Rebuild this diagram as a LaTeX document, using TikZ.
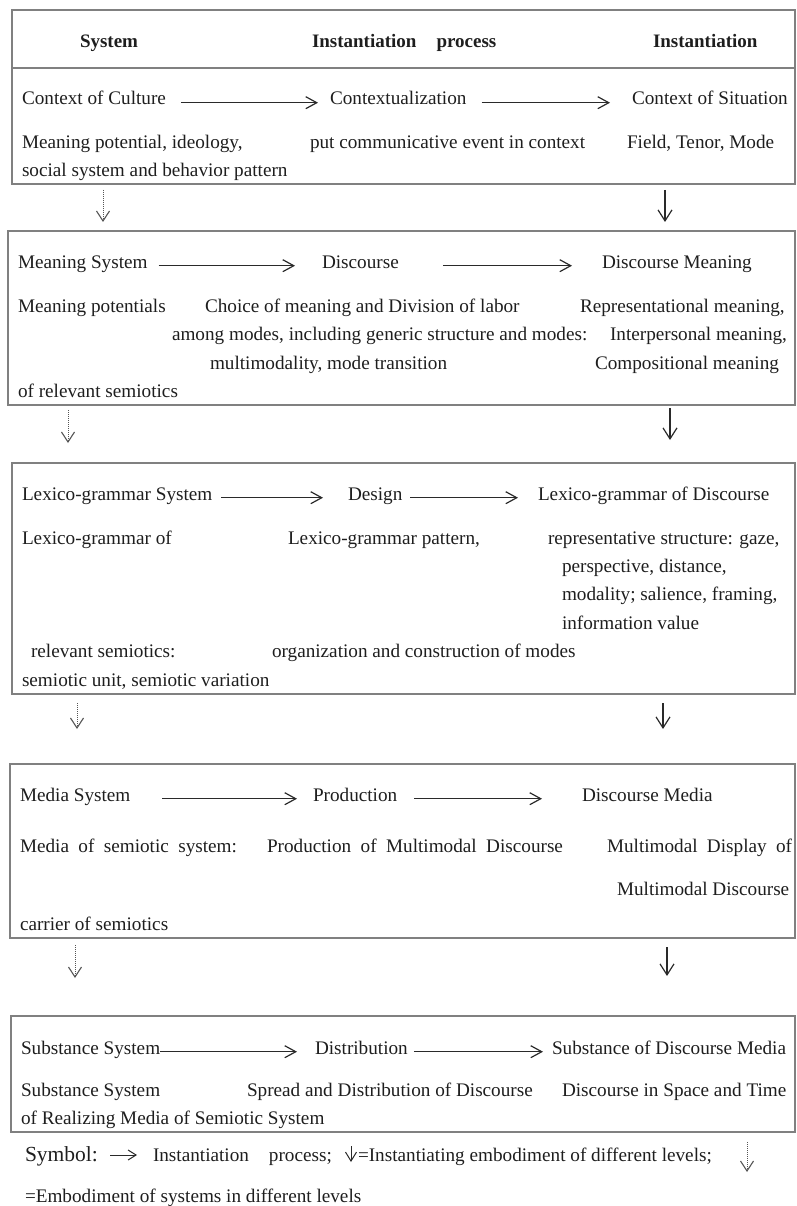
\documentclass[tikz,border=0pt]{standalone}
\usepackage{graphicx}
\usepackage{fontspec}
\setmainfont{Liberation Serif}
\usetikzlibrary{arrows.meta}
\definecolor{textc}{HTML}{1E1E1E}
\definecolor{boxc}{HTML}{808080}
\definecolor{arrc}{HTML}{2A2A2A}
\definecolor{dotc}{HTML}{555555}
\begin{document}
\begin{tikzpicture}[x=1pt,y=-1pt,
  txt/.style={anchor=base west, inner sep=0pt, outer sep=0pt, text=textc, font=\rmfamily\fontsize{19.2}{23}\selectfont},
  hdr/.style={txt, font=\rmfamily\fontsize{19}{23}\selectfont\bfseries},
  boxline/.style={draw=boxc, line width=1.4pt},
  harrow/.style={draw=arrc, line width=1.2pt, -{Straight Barb[length=11pt,width=12pt,line width=1.2pt]}},
  varrow/.style={draw=arrc, line width=1.2pt, -{Straight Barb[length=11pt,width=14pt,line width=1.2pt]}},
  darrow/.style={draw=dotc, line width=0.9pt, dash pattern=on 1pt off 1pt, -{Straight Barb[length=10pt,width=13pt,line width=1.1pt]}}
]
\useasboundingbox (0,0) rectangle (796,1206);

% ---------- boxes ----------
\draw[boxline] (12,10) rectangle (795,184);
\draw[boxline] (12,68) -- (795,68);
\draw[boxline] (8,231) rectangle (795,405);
\draw[boxline] (12,463) rectangle (795,694);
\draw[boxline] (10,764) rectangle (795,938);
\draw[boxline] (11,1016) rectangle (795,1132);

% ---------- header ----------
\node[hdr] (h1) at (80,48) {System};
\node[hdr] (h2) at (312,48) {Instantiation\hspace{20pt}process};
\node[hdr] (h3) at (653,48) {Instantiation};

% ---------- level 1 ----------
\node[txt] (coc) at (22,105) {Context of Culture};
\node[txt] (ctx) at (330,105) {Contextualization};
\node[txt] (cos) at (632,105) {Context of Situation};
\node[txt] (t1a) at (22,149) {Meaning potential, ideology,};
\node[txt] (t1b) at (22,177) {social system and behavior pattern};
\node[txt] (t1c) at (310,149) {put communicative event in context};
\node[txt] (t1d) at (627,149) {Field, Tenor, Mode};
\draw[harrow, shorten <=15pt, shorten >=12pt] (coc.mid east) -- (ctx.mid west);
\draw[harrow, shorten <=15pt, shorten >=22pt] (ctx.mid east) -- (cos.mid west);

% ---------- level 2 ----------
\node[txt] (ms) at (18,268) {Meaning System};
\node[txt] (dis) at (322,268) {Discourse};
\node[txt] (dm) at (602,268) {Discourse Meaning};
\node[txt] (t2a) at (18,312) {Meaning potentials};
\node[txt] (t2b) at (205,312) {Choice of meaning and Division of labor};
\node[txt] (t2c) at (580,312) {Representational meaning,};
\node[txt] (t2d) at (172,340) {among modes, including generic structure and modes:};
\node[txt] (t2e) at (610,340) {Interpersonal meaning,};
\node[txt] (t2f) at (210,369) {multimodality, mode transition};
\node[txt] (t2g) at (595,369) {Compositional meaning};
\node[txt] (t2h) at (18,397) {of relevant semiotics};
\draw[harrow, shorten <=11pt, shorten >=27pt] (ms.mid east) -- (dis.mid west);
\draw[harrow, shorten <=44pt, shorten >=30pt] (dis.mid east) -- (dm.mid west);

% ---------- level 3 ----------
\node[txt] (lgs) at (22,500) {Lexico-grammar System};
\node[txt] (des) at (348,500) {Design};
\node[txt] (lgd) at (538,500) {Lexico-grammar of Discourse};
\node[txt] (t3a) at (22,544) {Lexico-grammar of};
\node[txt] (t3b) at (288,544) {Lexico-grammar pattern,};
\node[txt] (t3c) at (548,544) {representative structure: gaze,};
\node[txt] (t3d) at (562,572) {perspective, distance,};
\node[txt] (t3e) at (562,600) {modality; salience, framing,};
\node[txt] (t3f) at (562,629) {information value};
\node[txt] (t3g) at (31,657) {relevant semiotics:};
\node[txt] (t3h) at (272,657) {organization and construction of modes};
\node[txt] (t3i) at (22,686) {semiotic unit, semiotic variation};
\draw[harrow, shorten <=9pt, shorten >=25pt] (lgs.mid east) -- (des.mid west);
\draw[harrow, shorten <=8pt, shorten >=20pt] (des.mid east) -- (lgd.mid west);

% ---------- level 4 ----------
\node[txt] (mds) at (20,801) {Media System};
\node[txt] (pro) at (313,801) {Production};
\node[txt] (dmd) at (582,801) {Discourse Media};
\node[txt] (t4a) at (20,852) {\makebox[217pt][s]{Media of semiotic system:}};
\node[txt] (t4b) at (267,852) {\makebox[296pt][s]{Production of Multimodal Discourse}};
\node[txt] (t4c) at (607,852) {\makebox[185pt][s]{Multimodal Display of}};
\node[txt] (t4d) at (617,895) {Multimodal Discourse};
\node[txt] (t4e) at (20,930) {carrier of semiotics};
\draw[harrow, shorten <=32pt, shorten >=16pt] (mds.mid east) -- (pro.mid west);
\draw[harrow, shorten <=17pt, shorten >=40pt] (pro.mid east) -- (dmd.mid west);

% ---------- level 5 ----------
\node[txt] (sss) at (21,1054) {Substance System};
\node[txt] (dst) at (315,1054) {Distribution};
\node[txt] (sdm) at (552,1054) {Substance of Discourse Media};
\node[txt] (t5a) at (21,1096) {Substance System};
\node[txt] (t5b) at (247,1096) {Spread and Distribution of Discourse};
\node[txt] (t5c) at (562,1096) {Discourse in Space and Time};
\node[txt] (t5d) at (21,1124) {of Realizing Media of Semiotic System};
\draw[harrow, shorten <=0pt, shorten >=18pt] (sss.mid east) -- (dst.mid west);
\draw[harrow, shorten <=6pt, shorten >=9pt] (dst.mid east) -- (sdm.mid west);

% ---------- vertical arrows between levels ----------
\coordinate (d1s) at (103,190); \coordinate (d1e) at (103,222);
\coordinate (s1s) at (665,190); \coordinate (s1e) at (665,222);
\coordinate (d2s) at (68,410);  \coordinate (d2e) at (68,443);
\coordinate (s2s) at (670,408); \coordinate (s2e) at (670,440);
\coordinate (d3s) at (77,703);  \coordinate (d3e) at (77,729);
\coordinate (s3s) at (663,703); \coordinate (s3e) at (663,729);
\coordinate (d4s) at (75,945);  \coordinate (d4e) at (75,978);
\coordinate (s4s) at (667,947); \coordinate (s4e) at (667,976);
\draw[darrow] (d1s) -- (d1e);
\draw[varrow] (s1s) -- (s1e);
\draw[darrow] (d2s) -- (d2e);
\draw[varrow] (s2s) -- (s2e);
\draw[darrow] (d3s) -- (d3e);
\draw[varrow] (s3s) -- (s3e);
\draw[darrow] (d4s) -- (d4e);
\draw[varrow] (s4s) -- (s4e);

% ---------- legend ----------
\node[txt] (sym) at (25,1161) {\scalebox{1.12}{Symbol:}};
\coordinate (la1) at (110,1155); \coordinate (la2) at (137,1155);
\draw[harrow, line width=1pt, -{Straight Barb[length=8pt,width=10pt,line width=1pt]}] (la1) -- (la2);
\node[txt] (lg1) at (153,1161) {Instantiation\hspace{20pt}process;};
\coordinate (lb1) at (351,1146); \coordinate (lb2) at (351,1162);
\draw[varrow, line width=1pt, -{Straight Barb[length=9pt,width=11pt,line width=1pt]}] (lb1) -- (lb2);
\node[txt] (lg2) at (358,1161) {=Instantiating embodiment of different levels;};
\coordinate (lc1) at (747,1142); \coordinate (lc2) at (747,1172);
\draw[darrow] (lc1) -- (lc2);
\node[txt] (lg3) at (25,1202) {=Embodiment of systems in different levels};
\end{tikzpicture}
\end{document}
